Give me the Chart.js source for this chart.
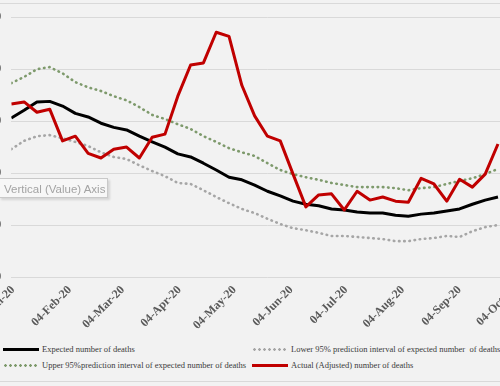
<!DOCTYPE html>
<html>
<head>
<meta charset="utf-8">
<script src="https://cdn.jsdelivr.net/npm/chart.js@4/dist/chart.umd.min.js"></script>
<style>
  html, body { margin: 0; padding: 0; background: #f2f2f2; }
  body { width: 500px; height: 386px; position: relative; overflow: hidden; }
  #wrap { position: absolute; left: -60px; top: 0; width: 600px; height: 335px; }
  .rule { position: absolute; left: 0; width: 500px; height: 1px; background: #d9d9d9; }
  #axisTip {
    position: absolute; left: -1px; top: 178px; width: 109px; height: 20px;
    border: 1px solid #c9c9c9; background: #f7f7f7;
    box-shadow: 2px 2px 2px rgba(0,0,0,0.12);
    font: 11.5px "Liberation Sans", Arial, sans-serif; color: #a3a3a3;
    line-height: 20px; padding-left: 4px; box-sizing: border-box; white-space: nowrap;
  }
  .leg { position: absolute; font: 8.5px "Liberation Serif", serif; color: #3a3a3a; white-space: nowrap; }
  .leg span { position: absolute; left: 0; top: 50%; width: 36px; }
  .leg b { font-weight: normal; margin-left: 39px; }
  .solid { height: 3px; margin-top: -1.5px; }
  .dots { height: 3px; margin-top: -1.5px; background-size: 5px 3px; background-repeat: repeat-x; }
</style>
</head>
<body>
<div class="rule" style="top:3px"></div>
<div class="rule" style="top:381px"></div>
<div id="wrap"><canvas id="chart"></canvas></div>
<div id="axisTip">Vertical (Value) Axis</div>

<div class="leg" style="left:3px; top:344px; height:10px; line-height:10px;">
  <span class="solid" style="background:#000"></span><b>Expected number of deaths</b>
</div>
<div class="leg" style="left:252px; top:344px; height:10px; line-height:10px;">
  <span class="dots" style="background-image:radial-gradient(circle, #a6a6a6 1.2px, transparent 1.5px)"></span><b>Lower 95% prediction interval of expected number &nbsp;of deaths</b>
</div>
<div class="leg" style="left:3px; top:360px; height:10px; line-height:10px;">
  <span class="dots" style="background-image:radial-gradient(circle, #7e9a6c 1.2px, transparent 1.5px)"></span><b>Upper 95%prediction interval of expected number of deaths</b>
</div>
<div class="leg" style="left:252px; top:360px; height:10px; line-height:10px;">
  <span class="solid" style="background:#c00000"></span><b>Actual (Adjusted) number of deaths</b>
</div>

<script>
// weekly series, week ending dates
const weekEnding = [
  '2020-01-03', '2020-01-10', '2020-01-17', '2020-01-24', '2020-01-31',
  '2020-02-07', '2020-02-14', '2020-02-21', '2020-02-28',
  '2020-03-06', '2020-03-13', '2020-03-20', '2020-03-27',
  '2020-04-03', '2020-04-10', '2020-04-17', '2020-04-24',
  '2020-05-01', '2020-05-08', '2020-05-15', '2020-05-22', '2020-05-29',
  '2020-06-05', '2020-06-12', '2020-06-19', '2020-06-26',
  '2020-07-03', '2020-07-10', '2020-07-17', '2020-07-24', '2020-07-31',
  '2020-08-07', '2020-08-14', '2020-08-21', '2020-08-28',
  '2020-09-04', '2020-09-11', '2020-09-18', '2020-09-25'
];

const expected = [306, 321, 337, 338, 329, 315, 308, 296, 288, 283, 271, 260, 250, 237, 231, 219, 206, 192, 187, 177,
  165, 156, 146, 140, 137, 131, 129, 125, 123, 123, 119, 117, 121, 123, 127, 131, 140, 148, 154];
const lower95 = [246, 262, 271, 273, 267, 260, 252, 240, 231, 227, 215, 204, 194, 181, 179, 167, 154, 142, 131, 123,
  112, 102, 94, 90, 85, 79, 79, 77, 75, 73, 69, 69, 73, 75, 79, 77, 88, 96, 100];
const upper95 = [373, 385, 400, 404, 392, 375, 365, 358, 348, 340, 327, 312, 304, 294, 285, 271, 260, 248, 240, 233,
  219, 206, 198, 192, 187, 181, 177, 173, 173, 173, 171, 167, 171, 173, 179, 185, 190, 198, 208];
const actual = [333, 337, 317, 323, 262, 271, 238, 229, 246, 250, 229, 269, 275, 348, 408, 412, 471, 463, 369, 310,
  271, 262, 198, 135, 158, 160, 129, 165, 148, 154, 146, 144, 190, 179, 146, 188, 173, 198, 256];

const tickDates = ['2020-01-04', '2020-02-04', '2020-03-04', '2020-04-04', '2020-05-04',
  '2020-06-04', '2020-07-04', '2020-08-04', '2020-09-04', '2020-10-04'];
const tickLabels = ['04-Jan-20', '04-Feb-20', '04-Mar-20', '04-Apr-20', '04-May-20',
  '04-Jun-20', '04-Jul-20', '04-Aug-20', '04-Sep-20', '04-Oct-20'];

// day of year (1 = 1 Jan 2020)
function dayOf(s) {
  const [y, m, d] = s.split('-').map(Number);
  return (Date.UTC(y, m - 1, d) - Date.UTC(2020, 0, 1)) / 864e5 + 1;
}

const days = weekEnding.map(dayOf);
const toPoints = arr => arr.map((v, i) => ({ x: days[i], y: v }));

const dotted = color => ({
  borderColor: color,
  borderWidth: 2.6,
  borderDash: [0.5, 4.7],
  borderCapStyle: 'round'
});

const axisFont = { family: 'Liberation Serif', size: 12, weight: 'bold' };

new Chart(document.getElementById('chart'), {
  type: 'line',
  data: {
    datasets: [
      { label: 'Actual (Adjusted) number of deaths', data: toPoints(actual), borderColor: '#c00000', borderWidth: 3, order: 0 },
      { label: 'Expected number of deaths', data: toPoints(expected), borderColor: '#000000', borderWidth: 3, order: 1 },
      Object.assign({ label: 'Upper 95%prediction interval of expected number of deaths', data: toPoints(upper95), order: 2 }, dotted('#7e9a6c')),
      Object.assign({ label: 'Lower 95% prediction interval of expected number of deaths', data: toPoints(lower95), order: 3 }, dotted('#a6a6a6'))
    ]
  },
  options: {
    responsive: true,
    maintainAspectRatio: false,
    animation: false,
    layout: { padding: { top: 17, right: 16.4, left: 0, bottom: 0 } },
    elements: {
      point: { radius: 0 },
      line: { tension: 0, borderJoinStyle: 'round', fill: false }
    },
    plugins: { legend: { display: false }, tooltip: { enabled: false } },
    scales: {
      x: {
        type: 'linear',
        min: days[0],
        max: 283,
        afterFit: s => { s.height = 58; },
        afterBuildTicks: s => { s.ticks = tickDates.map(d => ({ value: dayOf(d) })); },
        grid: { display: false, drawTicks: false },
        border: { display: false },
        ticks: {
          autoSkip: false,
          minRotation: 45,
          maxRotation: 45,
          padding: 6,
          color: '#595959',
          font: axisFont,
          callback: (v, i) => tickLabels[i]
        }
      },
      y: {
        min: 0,
        max: 500,
        afterFit: s => { s.width = 71.3; },
        grid: { color: '#d9d9d9', lineWidth: 1, drawTicks: false },
        border: { display: false },
        ticks: { stepSize: 100, padding: 10, color: '#595959', font: axisFont }
      }
    }
  }
});
</script>
</body>
</html>
